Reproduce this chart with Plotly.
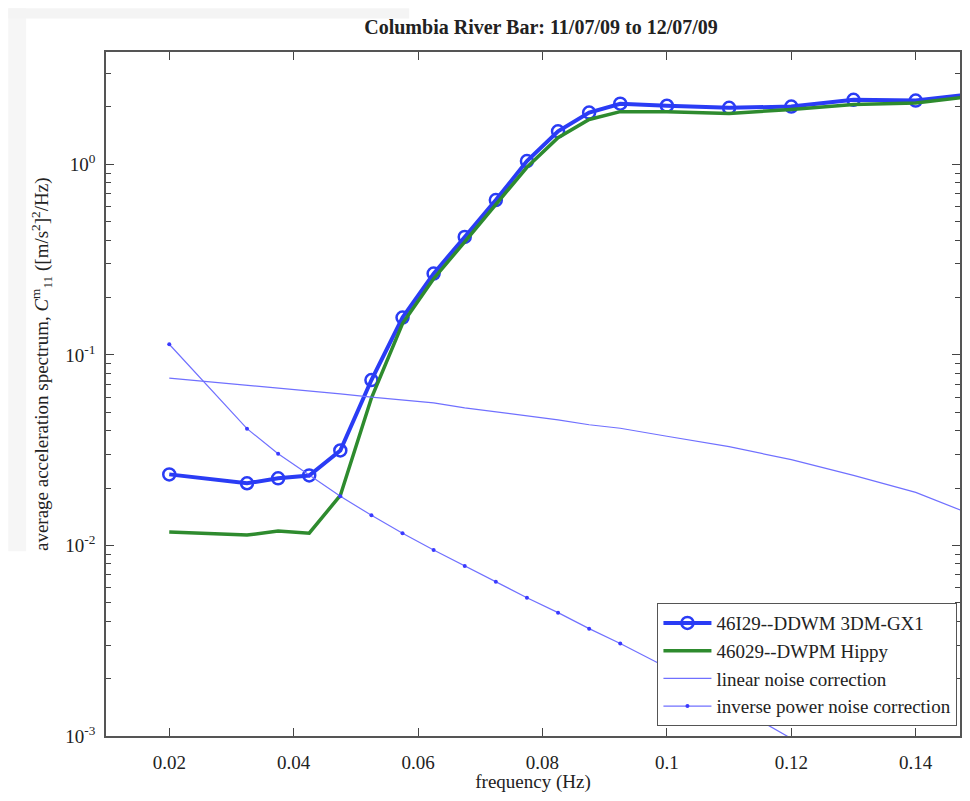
import plotly.graph_objects as go

freq = [0.02, 0.0325, 0.0375, 0.0425, 0.0475, 0.0525, 0.0575, 0.0625, 0.0675,
        0.0725, 0.0775, 0.0825, 0.0875, 0.0925, 0.10, 0.11, 0.12, 0.13, 0.14, 0.15]

ddwm = [0.0236, 0.0212, 0.0225, 0.0233, 0.0315, 0.0738, 0.157, 0.267, 0.416,
        0.649, 1.04, 1.49, 1.87, 2.08, 2.03, 1.98, 2.01, 2.18, 2.16, 2.35]

hippy = [0.01175, 0.01133, 0.0119, 0.0116, 0.0183, 0.0594, 0.146, 0.251, 0.392,
         0.611, 0.965, 1.38, 1.72, 1.89, 1.89, 1.85, 1.94, 2.06, 2.10, 2.29]

linear_corr = [0.0755, 0.0695, 0.0670, 0.0647, 0.0624, 0.0601, 0.0580, 0.0560, 0.0527,
               0.0502, 0.0479, 0.0456, 0.0430, 0.0412, 0.0374, 0.0330, 0.0282, 0.0233, 0.0190, 0.0141]

invpow_corr = [0.1137, 0.0410, 0.0303, 0.0233, 0.0181, 0.0144, 0.0116, 0.00946, 0.00781,
               0.00644, 0.00532, 0.00444, 0.00366, 0.00306, 0.00229, 0.00149, 0.00097,
               0.00065, 0.00045, 0.00032]

x_ticks = [0.02, 0.04, 0.06, 0.08, 0.10, 0.12, 0.14]
x_ticktext = ["0.02", "0.04", "0.06", "0.08", "0.1", "0.12", "0.14"]
y_ticks = [1e-3, 1e-2, 1e-1, 1e0]
y_ticktext = ["10<sup>-3</sup>", "10<sup>-2</sup>", "10<sup>-1</sup>", "10<sup>0</sup>"]
y_minor = [m * 10.0 ** e for e in range(-3, 1) for m in range(2, 10)]

FONT = "Liberation Serif, Times New Roman, serif"
TXT = "#222222"

fig = go.Figure()
fig.add_trace(go.Scatter(
    x=freq, y=ddwm, mode="lines+markers", name="46I29--DDWM 3DM-GX1",
    line=dict(color="#2a3cf5", width=4),
    marker=dict(symbol="circle-open", size=12, color="#2a3cf5", line=dict(width=2.5)),
))
fig.add_trace(go.Scatter(
    x=freq, y=hippy, mode="lines", name="46029--DWPM Hippy",
    line=dict(color="#2e8b2e", width=3.5),
))
fig.add_trace(go.Scatter(
    x=freq, y=linear_corr, mode="lines", name="linear noise correction",
    line=dict(color="#7070ff", width=1.2),
))
fig.add_trace(go.Scatter(
    x=freq, y=invpow_corr, mode="lines+markers", name="inverse power noise correction",
    line=dict(color="#7070ff", width=1.2),
    marker=dict(symbol="circle", size=4, color="#3a3aff"),
))

fig.update_layout(
    width=954, height=785,
    margin=dict(l=98, r=0, t=44, b=52),
    paper_bgcolor="white", plot_bgcolor="white",
    font=dict(family=FONT, size=19, color=TXT),
    title=dict(text="<b>Columbia River Bar: 11/07/09 to 12/07/09</b>",
               xref="container", x=533 / 954, xanchor="center",
               yref="container", y=1 - 19 / 785, yanchor="middle",
               font=dict(family=FONT, size=20, color=TXT)),
    showlegend=True,
    legend=dict(x=0.997, xanchor="right", y=0.0145, yanchor="bottom",
                bgcolor="white", bordercolor="#555555", borderwidth=1,
                font=dict(family=FONT, size=19, color=TXT),
                tracegroupgap=0, itemwidth=48),
    annotations=[dict(
        text="average acceleration spectrum, <i>C</i><sup>m</sup><sub>11</sub> ([m/s<sup>2</sup>]<sup>2</sup>/Hz)",
        xref="paper", yref="paper", x=-64 / 856, y=0.544,
        xanchor="center", yanchor="middle", textangle=-90, showarrow=False,
        font=dict(family=FONT, size=19, color=TXT),
    )],
    shapes=[
        dict(type="rect", xref="paper", yref="paper", layer="below",
             x0=-98 / 856, x1=-80 / 856, y0=0.27, y1=1.0639,
             fillcolor="#f6f6f6", line=dict(width=0)),
        dict(type="rect", xref="paper", yref="paper", layer="below",
             x0=-98 / 856, x1=0.355, y0=1.049, y1=1.0639,
             fillcolor="#f4f4f4", line=dict(width=0)),
    ],
)

fig.update_xaxes(
    range=[0.00983, 0.14712],
    tickvals=x_ticks, ticktext=x_ticktext,
    ticks="inside", ticklen=8, tickcolor="#444444", ticklabelstandoff=8,
    showline=True, linecolor="#555555", linewidth=1.5, mirror="ticks",
    showgrid=False, zeroline=False,
    tickfont=dict(family=FONT, size=19, color=TXT),
    title=dict(text="frequency (Hz)", font=dict(family=FONT, size=19, color=TXT), standoff=7),
)
fig.update_yaxes(
    type="log", range=[-3, 0.5895],
    tickvals=y_ticks, ticktext=y_ticktext,
    ticks="inside", ticklen=8, tickcolor="#444444", ticklabelstandoff=5,
    minor=dict(tickvals=y_minor, ticks="inside", ticklen=5, tickcolor="#444444", showgrid=False),
    showline=True, linecolor="#555555", linewidth=1.5, mirror="ticks",
    showgrid=False, zeroline=False,
    tickfont=dict(family=FONT, size=19, color=TXT),
)

fig.write_html("out.html")
